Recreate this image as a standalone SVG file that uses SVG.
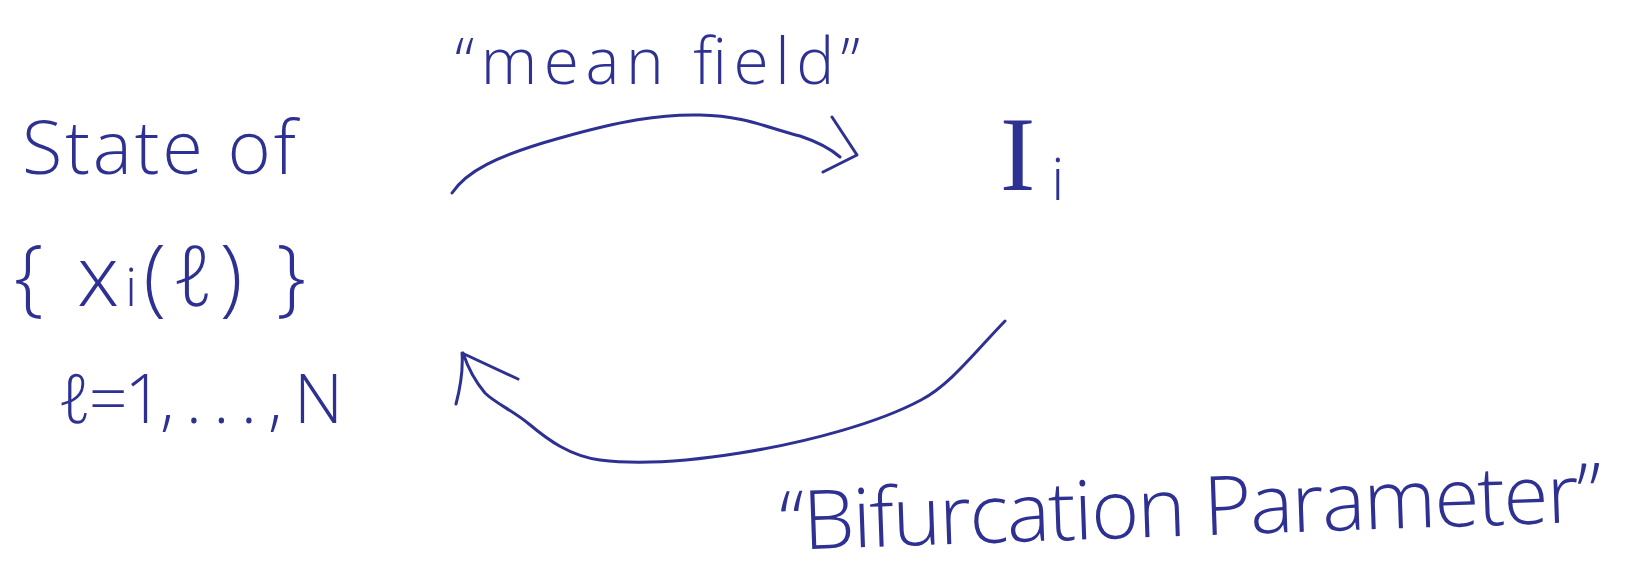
<svg xmlns="http://www.w3.org/2000/svg" width="1633" height="571" viewBox="0 0 1633 571">
<style>
.t{font-family:"Open Sans","Liberation Sans",sans-serif;font-weight:300;fill:#2e3192}
.s{font-family:"Liberation Serif",serif;font-weight:400;fill:#2e3192}
.c{fill:none;stroke:#2e3192;stroke-width:3;stroke-linecap:round;stroke-linejoin:round}
</style>
<rect width="1633" height="571" fill="#ffffff"/>
<g id="state-node">
<text class="t" x="22" y="174" font-size="74" textLength="274" lengthAdjust="spacing">State of</text>
<text class="t" x="14" y="306" font-size="84" textLength="292" lengthAdjust="spacing">{ x<tspan font-size="54">i</tspan>(ℓ) }</text>
<text class="t" x="58" y="423" font-size="68" textLength="285" lengthAdjust="spacing">ℓ=1, . . . , N</text>
</g>
<g id="current-node">
<text class="s" x="1000" y="190" font-size="106">I<tspan class="t" font-size="58" dx="16" dy="10">i</tspan></text>
</g>
<g id="connectors">
<path id="mean-field-arrow" class="c" d="M452,193 C466,172 495,156 560,138 C620,121 660,114 700,115 C745,116 765,127 800,136 C818,142 832,150 840,157 M832,117 L857,155 L823,172"/>
<path id="bifurcation-arrow" class="c" d="M1005,321 C975,352 950,385 921,400 C880,422 810,442 740,453 C690,461 640,465 600,460 C570,456 548,440 529,424 C512,410 495,403 485,393 C474,380 468,368 463,353 M456,404 C461,385 463,367 462,353 L518,379"/>
<text id="mean-field-label" class="t" x="455" y="84" font-size="64" textLength="405" lengthAdjust="spacing">“mean field”</text>
<text id="bifurcation-label" class="t" x="781" y="550" font-size="82" textLength="822" lengthAdjust="spacing" transform="rotate(-2 781 550)">“Bifurcation Parameter”</text>
</g>
</svg>
